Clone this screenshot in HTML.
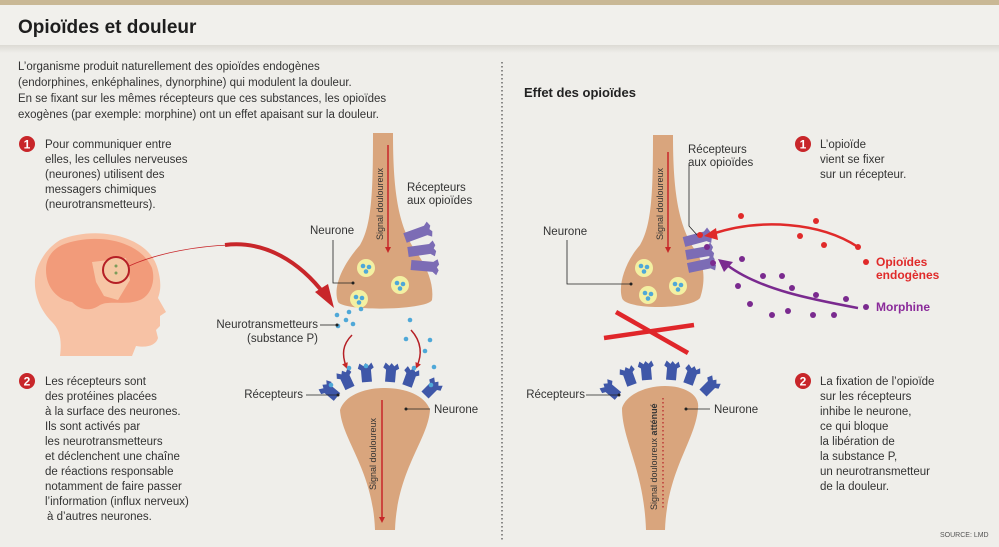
<!DOCTYPE html>
<html><head><meta charset="utf-8"><style>
body{margin:0;background:#efeeea;}
svg{display:block;font-family:"Liberation Sans",sans-serif;}
</style></head><body>
<svg width="999" height="547" viewBox="0 0 999 547" xmlns="http://www.w3.org/2000/svg">
<defs>
<linearGradient id="sh" x1="0" y1="0" x2="0" y2="1"><stop offset="0" stop-color="#dcdad4"/><stop offset="1" stop-color="#efeeea"/></linearGradient>
<marker id="ar" markerWidth="6" markerHeight="6" refX="3" refY="3" orient="auto"><path d="M0,0 L6,3 L0,6 z" fill="#c8262a"/></marker>
<marker id="arb" markerWidth="4" markerHeight="4" refX="2" refY="2" orient="auto"><path d="M0,0 L4,2 L0,4 z" fill="#c62828"/></marker>
<g id="ves"><circle r="9" fill="#f3f0a2"/><circle cx="-3" cy="-2" r="2.3" fill="#4fa8d8"/><circle cx="3" cy="-1" r="2.3" fill="#4fa8d8"/><circle cx="0" cy="3.5" r="2.3" fill="#4fa8d8"/></g>
<g id="rc"><path d="M-5,0 L-5,-12 L-8,-14 L-6,-19 L-2,-16 L0,-19 L3,-16 L6,-19 L8,-14 L5,-12 L5,0 z" fill="#3f57a8"/></g>
<g id="pr"><path d="M0,-5 L22,-5 L26,-8 L28,-3 L26,0 L28,3 L26,8 L22,5 L0,5 z" fill="#7c6cb5"/></g>
</defs>
<rect width="999" height="547" fill="#efeeea"/>
<rect width="999" height="5" fill="#c9b895"/>
<rect y="5" width="999" height="40" fill="#f1f0ec"/>
<rect y="45" width="999" height="8" fill="url(#sh)"/>
<text x="18" y="33" font-size="19" font-weight="bold" fill="#1e1e1e">Opioïdes et douleur</text>
<g font-size="11.5" fill="#333">
<text x="18" y="70">L’organisme produit naturellement des opioïdes endogènes</text>
<text x="18" y="86">(endorphines, enképhalines, dynorphine) qui modulent la douleur.</text>
<text x="18" y="102">En se fixant sur les mêmes récepteurs que ces substances, les opioïdes</text>
<text x="18" y="118">exogènes (par exemple: morphine) ont un effet apaisant sur la douleur.</text>
</g>
<line x1="502" y1="62" x2="502" y2="540" stroke="#555" stroke-width="1.3" stroke-dasharray="1.5 2.5"/>

<!-- numbers -->
<g font-size="12" font-weight="bold" fill="#fff" text-anchor="middle">
<circle cx="27" cy="144" r="8" fill="#c8262a"/><text x="27" y="148.5">1</text>
<circle cx="27" cy="381" r="8" fill="#c8262a"/><text x="27" y="385.5">2</text>
<circle cx="803" cy="144" r="8" fill="#c8262a"/><text x="803" y="148.5">1</text>
<circle cx="803" cy="381" r="8" fill="#c8262a"/><text x="803" y="385.5">2</text>
</g>
<g font-size="11.5" fill="#333">
<text x="45" y="148">Pour communiquer entre</text>
<text x="45" y="163">elles, les cellules nerveuses</text>
<text x="45" y="178">(neurones) utilisent des</text>
<text x="45" y="193">messagers chimiques</text>
<text x="45" y="208">(neurotransmetteurs).</text>
<text x="45" y="385">Les récepteurs sont</text>
<text x="45" y="400">des protéines placées</text>
<text x="45" y="415">à la surface des neurones.</text>
<text x="45" y="430">Ils sont activés par</text>
<text x="45" y="445">les neurotransmetteurs</text>
<text x="45" y="460">et déclenchent une chaîne</text>
<text x="45" y="475">de réactions responsable</text>
<text x="45" y="490">notamment de faire passer</text>
<text x="45" y="505">l’information (influx nerveux)</text>
<text x="47" y="520">à d’autres neurones.</text>
<text x="820" y="148">L’opioïde</text>
<text x="820" y="163">vient se fixer</text>
<text x="820" y="178">sur un récepteur.</text>
<text x="820" y="385">La fixation de l’opioïde</text>
<text x="820" y="400">sur les récepteurs</text>
<text x="820" y="415">inhibe le neurone,</text>
<text x="820" y="430">ce qui bloque</text>
<text x="820" y="445">la libération de</text>
<text x="820" y="460">la substance P,</text>
<text x="820" y="475">un neurotransmetteur</text>
<text x="820" y="490">de la douleur.</text>
</g>
<text x="524" y="97" font-size="13" font-weight="bold" fill="#222">Effet des opioïdes</text>

<!-- head -->
<g>
<path d="M60,240 C95,225 150,235 158,270 C162,285 160,292 158,298 L166,312 L160,316 L160,326 L156,330 L158,338 C156,345 148,348 136,346 L132,356 L60,356 C62,340 60,330 52,322 C35,305 30,280 40,262 C45,252 52,245 60,240 z" fill="#f7c2a5"/>
<path d="M62,245 C95,232 140,240 152,268 C156,282 150,296 140,300 C125,306 110,300 100,305 C90,312 80,310 72,302 C58,300 46,288 46,270 C46,258 52,250 62,245 z" fill="#f29b7a"/>
<path d="M92,262 L126,258 L130,280 L118,300 L104,296 L96,282 z" fill="#f7d0b0" opacity="0.8"/>
<circle cx="116" cy="270" r="13" fill="#f4c7a3" stroke="#b51f25" stroke-width="2"/>
<circle cx="116" cy="266" r="1.5" fill="#7c9c5a"/><circle cx="116" cy="273" r="1.5" fill="#7c9c5a"/>
<path d="M129,266 C160,252 200,246 230,245" stroke="#c8262a" stroke-width="0.8" fill="none"/>
<path d="M225,245 C265,240 300,262 325,295" stroke="#c8262a" stroke-width="4" fill="none"/>
<path d="M315,292 L334,308 L328,284 z" fill="#c8262a"/>
</g>

<!-- LEFT top neuron -->
<path d="M373,133 L393,133 C393,190 398,225 415,250 C428,268 434,285 432,300 C428,310 345,312 338,302 C332,285 345,262 360,245 C372,225 373,190 373,133 z" fill="#d9a57d"/>
<line x1="388" y1="145" x2="388" y2="250" stroke="#c8262a" stroke-width="1.5" marker-end="url(#arb)"/>
<text transform="translate(383,240) rotate(-90)" font-size="9" fill="#333">Signal douloureux</text>
<use href="#pr" transform="translate(405,238) rotate(-20)"/>
<use href="#pr" transform="translate(408,252) rotate(-8)"/>
<use href="#pr" transform="translate(411,265) rotate(5)"/>
<use href="#ves" x="366" y="268"/><use href="#ves" x="400" y="285"/><use href="#ves" x="359" y="299"/>
<g fill="#4fa8d8"><circle cx="337" cy="315" r="2.3"/><circle cx="349" cy="312" r="2.3"/><circle cx="361" cy="309" r="2.3"/><circle cx="346" cy="320" r="2.3"/><circle cx="353" cy="324" r="2.3"/><circle cx="338" cy="326" r="2.3"/><circle cx="410" cy="320" r="2.3"/><circle cx="406" cy="339" r="2.3"/><circle cx="430" cy="340" r="2.3"/><circle cx="425" cy="351" r="2.3"/><circle cx="434" cy="367" r="2.3"/></g>
<path d="M352,335 C342,345 342,355 346,366" stroke="#b51f25" stroke-width="1.5" fill="none" marker-end="url(#arb)"/>
<path d="M411,330 C422,342 422,355 417,366" stroke="#b51f25" stroke-width="1.5" fill="none" marker-end="url(#arb)"/>
<g font-size="11.5" fill="#333">
<text x="407" y="191">Récepteurs</text><text x="407" y="204">aux opioïdes</text>
<text x="310" y="234">Neurone</text>
<text x="318" y="328" text-anchor="end">Neurotransmetteurs</text>
<text x="318" y="342" text-anchor="end">(substance P)</text>
<text x="303" y="398" text-anchor="end">Récepteurs</text>
<text x="434" y="413">Neurone</text>
</g>
<polyline points="333,240 333,283 353,283" stroke="#222" stroke-width="0.8" fill="none"/><circle cx="353" cy="283" r="1.5" fill="#222"/>
<line x1="320" y1="325" x2="336" y2="325" stroke="#222" stroke-width="0.8"/><circle cx="337" cy="325" r="1.5" fill="#222"/>
<!-- LEFT bottom neuron -->
<g>
<use href="#rc" transform="translate(337,397) rotate(-50)"/>
<use href="#rc" transform="translate(350,388) rotate(-25)"/>
<use href="#rc" transform="translate(367,382) rotate(-5)"/>
<use href="#rc" transform="translate(390,382) rotate(5)"/>
<use href="#rc" transform="translate(407,386) rotate(20)"/>
<use href="#rc" transform="translate(425,395) rotate(45)"/>
</g>
<g fill="#4fa8d8"><circle cx="349" cy="368" r="2.3"/><circle cx="366" cy="366" r="2.3"/><circle cx="414" cy="368" r="2.3"/><circle cx="331" cy="385" r="2.3"/><circle cx="431" cy="385" r="2.3"/></g>
<path d="M340,410 C345,395 365,388 385,388 C405,388 425,395 430,410 C428,440 397,470 395,530 L375,530 C373,470 342,440 340,410 z" fill="#d9a57d"/>
<line x1="382" y1="400" x2="382" y2="520" stroke="#c8262a" stroke-width="1.5" marker-end="url(#arb)"/>
<text transform="translate(376,490) rotate(-90)" font-size="9" fill="#333">Signal douloureux</text>
<line x1="306" y1="395" x2="337" y2="395" stroke="#222" stroke-width="0.8"/><circle cx="338" cy="395" r="1.5" fill="#222"/>
<line x1="407" y1="409" x2="430" y2="409" stroke="#222" stroke-width="0.8"/><circle cx="406" cy="409" r="1.5" fill="#222"/>

<!-- RIGHT top neuron -->
<path d="M653,135 L673,135 C673,190 678,225 695,250 C708,268 703,290 700,298 C690,310 625,310 622,298 C618,285 625,262 640,245 C652,225 653,190 653,135 z" fill="#d9a57d"/>
<line x1="668" y1="152" x2="668" y2="250" stroke="#c8262a" stroke-width="1.5" marker-end="url(#arb)"/>
<text transform="translate(663,240) rotate(-90)" font-size="9" fill="#333">Signal douloureux</text>
<use href="#pr" transform="translate(684,242) rotate(-15)"/>
<use href="#pr" transform="translate(686,255) rotate(-10)"/>
<use href="#pr" transform="translate(688,268) rotate(-12)"/>
<use href="#ves" x="644" y="268"/><use href="#ves" x="678" y="286"/><use href="#ves" x="648" y="295"/>
<polyline points="689,165 689,226 698,236" stroke="#222" stroke-width="0.8" fill="none"/>
<circle cx="700" cy="235" r="3" fill="#e02a2a"/>
<circle cx="707" cy="247" r="3" fill="#7a2a8f"/><circle cx="713" cy="263" r="3" fill="#7a2a8f"/>
<path d="M858,247 C820,222 760,218 712,234" stroke="#e02a2a" stroke-width="2.5" fill="none"/>
<path d="M716,228 L704,236 L718,240 z" fill="#e02a2a"/>
<path d="M858,308 C815,300 760,290 727,265" stroke="#7a2a8f" stroke-width="2.5" fill="none"/>
<path d="M724,272 L718,259 L733,262 z" fill="#7a2a8f"/>
<g fill="#e02a2a"><circle cx="741" cy="216" r="3"/><circle cx="816" cy="221" r="3"/><circle cx="800" cy="236" r="3"/><circle cx="824" cy="245" r="3"/><circle cx="858" cy="247" r="3"/><circle cx="866" cy="262" r="3"/></g>
<g fill="#7a2a8f"><circle cx="742" cy="259" r="3"/><circle cx="763" cy="276" r="3"/><circle cx="782" cy="276" r="3"/><circle cx="738" cy="286" r="3"/><circle cx="792" cy="288" r="3"/><circle cx="816" cy="295" r="3"/><circle cx="846" cy="299" r="3"/><circle cx="750" cy="304" r="3"/><circle cx="772" cy="315" r="3"/><circle cx="788" cy="311" r="3"/><circle cx="813" cy="315" r="3"/><circle cx="834" cy="315" r="3"/><circle cx="866" cy="307" r="3"/></g>
<text x="876" y="266" font-size="12" font-weight="bold" fill="#e02a2a">Opioïdes</text>
<text x="876" y="279" font-size="12" font-weight="bold" fill="#e02a2a">endogènes</text>
<text x="876" y="311" font-size="12" font-weight="bold" fill="#8a2a9a">Morphine</text>
<g font-size="11.5" fill="#333">
<text x="688" y="153">Récepteurs</text><text x="688" y="166">aux opioïdes</text>
<text x="543" y="235">Neurone</text>
<text x="585" y="398" text-anchor="end">Récepteurs</text>
<text x="714" y="413">Neurone</text>
</g>
<polyline points="567,240 567,284 630,284" stroke="#222" stroke-width="0.8" fill="none"/><circle cx="631" cy="284" r="1.5" fill="#222"/>
<!-- red X -->
<line x1="604" y1="338" x2="694" y2="325" stroke="#e0262a" stroke-width="4.5"/>
<line x1="616" y1="312" x2="688" y2="353" stroke="#e0262a" stroke-width="4.5"/>
<!-- RIGHT bottom neuron -->
<g>
<use href="#rc" transform="translate(618,396) rotate(-50)"/>
<use href="#rc" transform="translate(632,385) rotate(-20)"/>
<use href="#rc" transform="translate(647,380) rotate(-5)"/>
<use href="#rc" transform="translate(671,380) rotate(5)"/>
<use href="#rc" transform="translate(688,384) rotate(20)"/>
<use href="#rc" transform="translate(703,393) rotate(45)"/>
</g>
<path d="M622,408 C626,395 645,386 665,386 C685,386 700,395 698,408 C696,440 667,470 665,530 L646,530 C644,470 622,440 622,408 z" fill="#d9a57d"/>
<line x1="663" y1="398" x2="663" y2="508" stroke="#b51f25" stroke-width="1.2" stroke-dasharray="1.5 2.5"/>
<text transform="translate(657,510) rotate(-90)" font-size="9" fill="#333">Signal douloureux <tspan font-weight="bold">atténué</tspan></text>
<line x1="586" y1="395" x2="618" y2="395" stroke="#222" stroke-width="0.8"/><circle cx="619" cy="395" r="1.5" fill="#222"/>
<line x1="687" y1="409" x2="710" y2="409" stroke="#222" stroke-width="0.8"/><circle cx="686" cy="409" r="1.5" fill="#222"/>
<text x="940" y="537" font-size="7" fill="#555">SOURCE: LMD</text>
</svg>
</body></html>
